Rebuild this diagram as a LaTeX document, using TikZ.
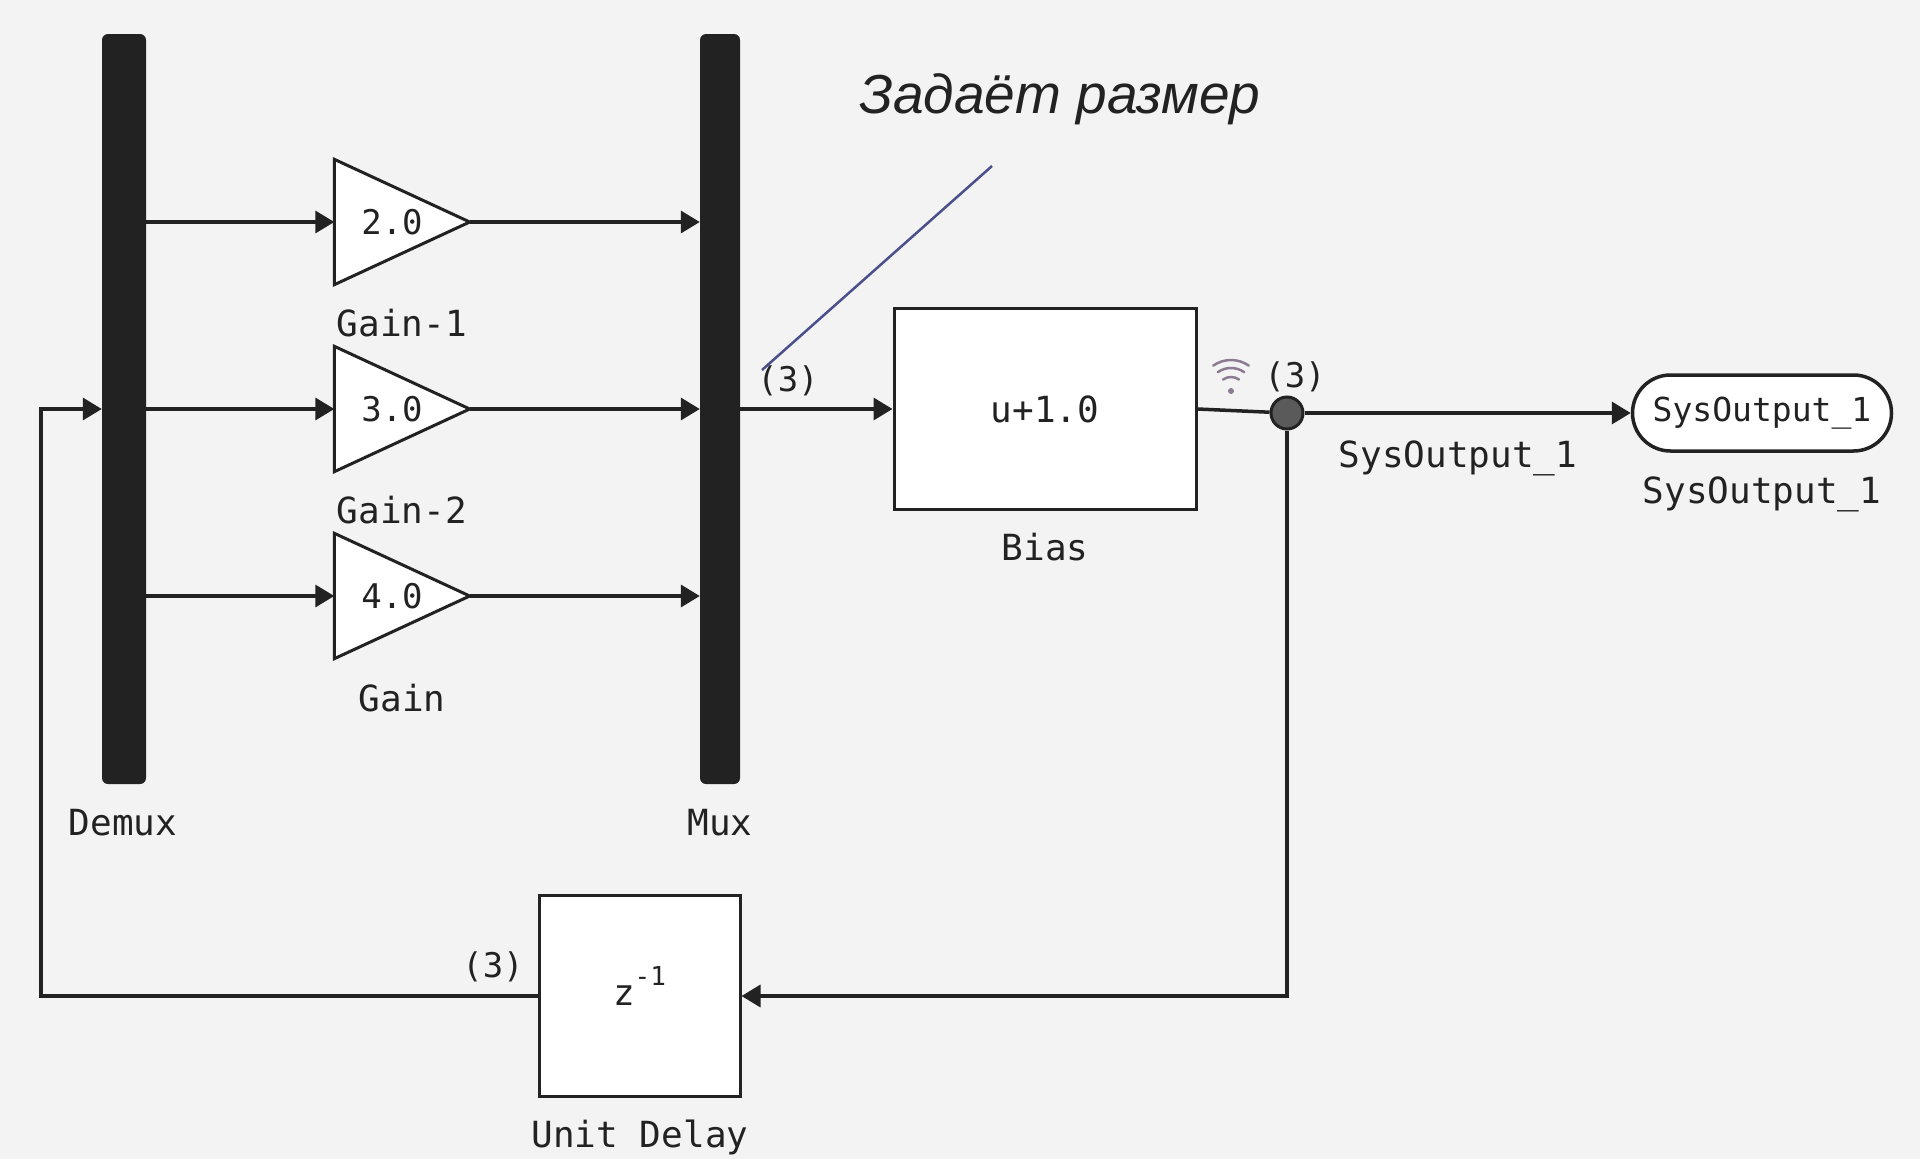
\documentclass[tikz,border=0pt]{standalone}
\usepackage{fontspec}
\setmonofont{DejaVu Sans Mono}
\newfontfamily\notefont{Liberation Sans}
\usetikzlibrary{arrows.meta, backgrounds}

\definecolor{canvas}{HTML}{F3F3F3}
\definecolor{ink}{HTML}{222222}
\definecolor{dotgrey}{HTML}{5A5A5A}
\definecolor{notecol}{HTML}{4B4F8C}
\definecolor{wificol}{HTML}{8E7A92}

\begin{document}
\begin{tikzpicture}[x=1pt, y=-1pt,
        sig/.style={draw=ink, line width=3.5pt, -{Triangle[length=19pt, width=22pt]}},
        wire/.style={draw=ink, line width=3.5pt},
        bar/.style={fill=ink, rounded corners=6pt, minimum width=44pt, minimum height=750pt, inner sep=0pt},
        block/.style={draw=ink, fill=white, line width=3pt, inner sep=0pt, text=ink, font=\ttfamily\fontsize{36}{40}\selectfont},
        gainbox/.style={minimum width=135pt, minimum height=125pt, inner sep=0pt, text=ink,
            font=\ttfamily\fontsize{34}{40}\selectfont, execute at begin node=\hspace*{-20pt}},
        lbl/.style={anchor=base, inner sep=0pt, text=ink, font=\ttfamily\fontsize{36}{40}\selectfont},
        dim/.style={lbl, font=\ttfamily\fontsize{34}{40}\selectfont}]
    \useasboundingbox (0, 0) rectangle (1920, 1159);

    % blocks
    \node[bar] (demux) at (124, 409) {};
    \node[bar, minimum width=40pt] (mux) at (720, 409) {};
    \node[gainbox] (g1) at (402, 222) {2.0};
    \node[gainbox] (g2) at (402, 409) {3.0};
    \node[gainbox] (g3) at (402, 596) {4.0};
    \node[block, minimum width=302pt, minimum height=201pt] (bias) at (1045, 409) {u+1.0};
    \node[block, minimum width=201pt, minimum height=201pt] (delay) at (639.5, 996)
        {z\smash{\raisebox{20pt}{\fontsize{26}{28}\selectfont -1}}};
    \node[draw=ink, fill=white, line width=3.5pt, rounded corners=38pt, minimum width=259pt,
        minimum height=76pt, inner sep=0pt, text=ink, font=\ttfamily\fontsize{33}{40}\selectfont] (term) at (1762, 413) {SysOutput\_1};
    \node[circle, draw=ink, fill=dotgrey, line width=3pt, minimum size=32pt, inner sep=0pt] (dot) at (1287, 413) {};

    \begin{scope}[on background layer]
        \fill[canvas] (0, 0) rectangle (1920, 1159);
        \foreach \g in {g1, g2, g3}
            \draw[draw=ink, fill=white, line width=3pt] (\g.north west) -- (\g.east) -- (\g.south west) -- cycle;
    \end{scope}

    % labels
    \node[lbl] (g1lbl) at (402, 336) {Gain-1};
    \node[lbl] (g2lbl) at (402, 523) {Gain-2};
    \node[lbl] (g3lbl) at (402, 711) {Gain};
    \node[lbl] (demuxlbl) at (123, 835) {Demux};
    \node[lbl] (muxlbl) at (720, 835) {Mux};
    \node[lbl] (biaslbl) at (1045, 560) {Bias};
    \node[lbl] (delaylbl) at (640, 1147) {Unit Delay};
    \node[lbl] (siglbl) at (1458, 467) {SysOutput\_1};
    \node[lbl] (termlbl) at (1762, 503) {SysOutput\_1};
    \node[dim] (dimmux) at (788, 391) {(3)};
    \node[dim] (dimdot) at (1295, 387) {(3)};
    \node[dim] (dimdelay) at (493, 977) {(3)};

    % signals
    \foreach \g in {g1, g2, g3} {
        \draw[sig] (demux.east |- \g) -- (\g.west);
        \draw[sig] (\g.east) -- (mux.west |- \g);
    }
    \draw[sig] (mux.east) -- (bias.west);
    \draw[wire] (bias.east) -- (dot);
    \draw[sig] (dot) -- (term.west);
    \draw[sig] (dot) |- (delay.east);
    \coordinate (loopx) at (41, 0);
    \draw[sig] (delay.west) -- (delay.west -| loopx) |- (demux.west);

    % signal icon
    \coordinate (wifi) at (1231, 391);
    \fill[wificol] (wifi) circle (3);
    \foreach \r in {14, 23, 31}
        \draw[wificol, line width=2.5pt, line cap=round] (wifi) ++(235:\r) arc (235:305:\r);

    % note
    \coordinate (notetip) at (762, 370);
    \coordinate (notefoot) at (992, 166);
    \draw[notecol, line width=2.5pt] (notetip) -- (notefoot);
    \node[anchor=base, inner sep=0pt, text=ink, font=\notefont\itshape\fontsize{55}{60}\selectfont] (notetext) at (1060, 113) {Задаёт размер};
\end{tikzpicture}
\end{document}
